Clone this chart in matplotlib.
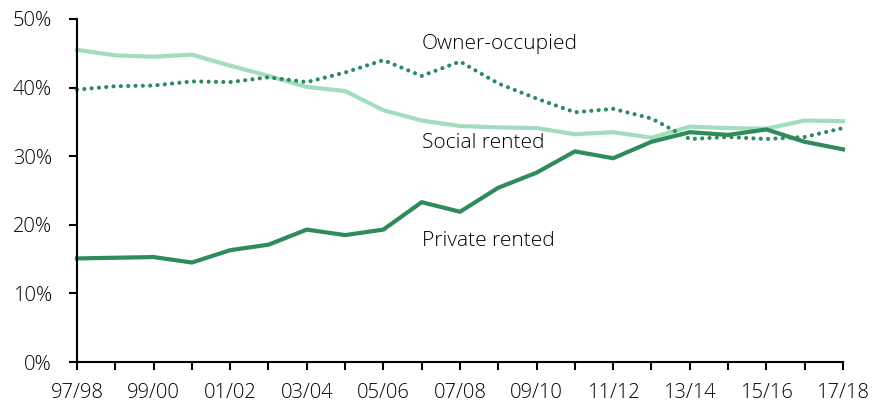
import numpy as np
import matplotlib
matplotlib.use('Agg')
import matplotlib.pyplot as plt

plt.rcParams['font.family'] = ['Open Sans', 'DejaVu Sans']
plt.rcParams['font.weight'] = 'light'

years = ['97/98', '98/99', '99/00', '00/01', '01/02', '02/03', '03/04',
         '04/05', '05/06', '06/07', '07/08', '08/09', '09/10', '10/11',
         '11/12', '12/13', '13/14', '14/15', '15/16', '16/17', '17/18']

private_rented = [15.1, 15.2, 15.3, 14.5, 16.3, 17.1, 19.3, 18.5, 19.3, 23.3,
                  21.9, 25.4, 27.6, 30.7, 29.7, 32.1, 33.5, 33.1, 33.9, 32.1, 31.0]
social_rented = [45.5, 44.7, 44.5, 44.8, 43.2, 41.7, 40.1, 39.5, 36.7, 35.2,
                 34.4, 34.2, 34.1, 33.2, 33.5, 32.7, 34.3, 34.1, 34.0, 35.2, 35.1]
owner_occupied = [39.7, 40.2, 40.3, 40.9, 40.8, 41.5, 40.8, 42.2, 44.0, 41.7,
                  43.8, 40.6, 38.4, 36.4, 36.9, 35.5, 32.5, 32.8, 32.5, 32.8, 34.1]

dark = '#2f8a5c'
light = '#a4dcc0'
ink = '#000000'

fig = plt.figure(figsize=(8.72, 4.03), dpi=100)
ax = fig.add_axes([0.0883, 0.1017, 0.8784, 0.8512])

x = np.arange(len(years))
ax.plot(x, social_rented, color=light, lw=3, solid_joinstyle='round', clip_on=False)
ax.plot(x, private_rented, color=dark, lw=3, solid_joinstyle='round', clip_on=False)
ax.plot(x, owner_occupied, color=dark, lw=3, linestyle=(0, (0.01, 1.75)),
        dash_capstyle='round', clip_on=False)

ax.text(9.0, 46.4, 'Owner-occupied', fontsize=15, va='center', color=ink)
ax.text(9.0, 31.9, 'Social rented', fontsize=15, va='center', color=ink)
ax.text(9.0, 17.6, 'Private rented', fontsize=15, va='center', color=ink)

ax.set_xlim(0, len(years) - 1)
ax.set_ylim(0, 50)
ax.set_xticks(x)
ax.set_xticklabels([y if i % 2 == 0 else '' for i, y in enumerate(years)])
ax.set_yticks(range(0, 51, 10))
ax.set_yticklabels(['{}%'.format(v) for v in range(0, 51, 10)])

for s in ['top', 'right']:
    ax.spines[s].set_visible(False)
for s in ['left', 'bottom']:
    ax.spines[s].set_linewidth(1.5)
ax.tick_params(axis='both', length=6, width=1.5, labelsize=14.5, colors=ink)
ax.tick_params(axis='y', pad=12)
ax.tick_params(axis='x', pad=9)

fig.savefig('out.png', dpi=100)
